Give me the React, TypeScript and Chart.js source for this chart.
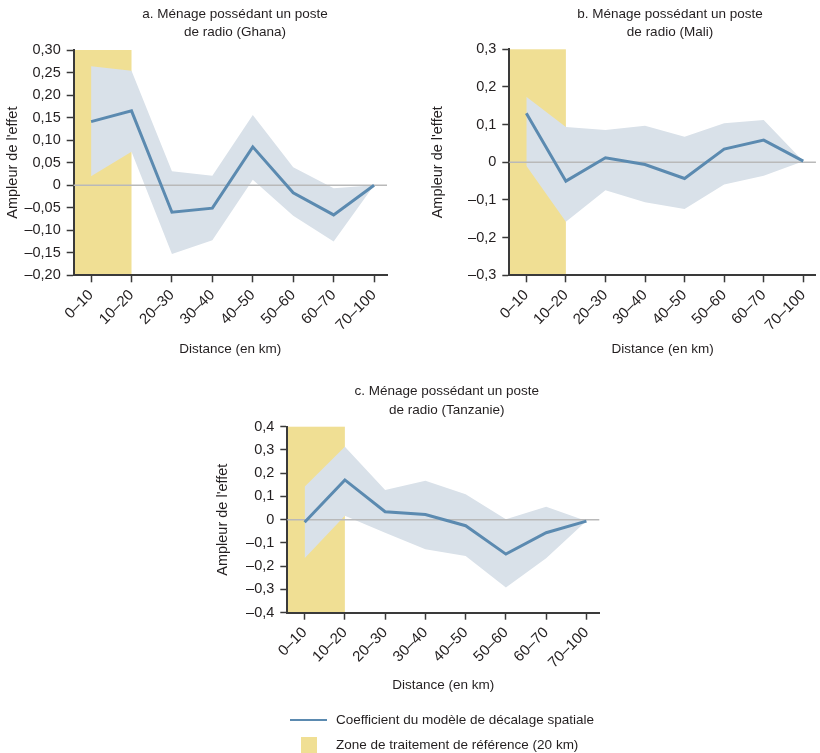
import { useEffect, useRef } from "react";
import { Chart, registerables } from "chart.js";

Chart.register(...registerables);

// Distance bins (km) shared by the three panels
const distanceBins = ["0–10", "10–20", "20–30", "30–40", "40–50", "50–60", "60–70", "70–100"];
// The reference treatment zone runs up to the "10–20" bin (20 km)
const treatmentZoneEndBin = 1;

// a. Ghana
const ghanaCoef = [0.141, 0.165, -0.06, -0.051, 0.085, -0.017, -0.066, 0.0];
const ghanaUpper = [0.264, 0.254, 0.031, 0.021, 0.156, 0.04, -0.007, 0.0];
const ghanaLower = [0.02, 0.074, -0.153, -0.122, 0.012, -0.068, -0.125, 0.0];
const ghanaTicks = [-0.2, -0.15, -0.1, -0.05, 0, 0.05, 0.1, 0.15, 0.2, 0.25, 0.3];

// b. Mali
const maliCoef = [0.13, -0.05, 0.012, -0.006, -0.043, 0.035, 0.059, 0.003];
const maliUpper = [0.174, 0.094, 0.086, 0.097, 0.068, 0.104, 0.112, 0.003];
const maliLower = [-0.009, -0.158, -0.074, -0.106, -0.124, -0.059, -0.036, 0.003];
const maliTicks = [-0.3, -0.2, -0.1, 0, 0.1, 0.2, 0.3];

// c. Tanzania
const tanzaniaCoef = [-0.011, 0.171, 0.034, 0.022, -0.026, -0.148, -0.056, -0.006];
const tanzaniaUpper = [0.142, 0.314, 0.128, 0.168, 0.109, 0.002, 0.056, -0.006];
const tanzaniaLower = [-0.166, 0.017, -0.056, -0.127, -0.156, -0.292, -0.166, -0.006];
const tanzaniaTicks = [-0.4, -0.3, -0.2, -0.1, 0, 0.1, 0.2, 0.3, 0.4];

const FONT = "'Liberation Sans', Arial, sans-serif";
const TEXT_SIZE = 13.5;
const TEXT = "#231f20";
const AXIS = "#3a3a3a";
const LINE = "#5b8ab0";
const BAND = "#d9e1e9";
const ZONE = "#f0df94";
const ZERO = "#b9b9b9";

type Box = { left: number; top: number; width: number; height: number };
type Area = { padLeft: number; yWidth: number; padTop: number; padRight: number; xHeight: number; padBottom: number };

type PanelProps = {
  title: string[];
  titleX: number;
  titleY: number[];
  coef: number[];
  upper: number[];
  lower: number[];
  yTicks: number[];
  decimals: number;
  box: Box;
  area: Area;
};

function formatTick(v: number, decimals: number) {
  if (Math.abs(v) < 1e-9) return "0";
  const s = Math.abs(v).toFixed(decimals).replace(".", ",");
  return v < 0 ? "–" + s : s;
}

function Panel(props: PanelProps) {
  const ref = useRef<HTMLCanvasElement | null>(null);

  useEffect(() => {
    const canvas = ref.current;
    if (!canvas) return;
    const { title, titleX, titleY, coef, upper, lower, yTicks, decimals, area } = props;
    const toPoints = (arr: number[]) => arr.map((y, i) => ({ x: i, y }));

    const decor = {
      id: "panelDecor",
      // treatment zone band, under the axes
      beforeDraw(chart: any) {
        const { ctx, chartArea, scales } = chart;
        const xEnd = scales.x.getPixelForValue(treatmentZoneEndBin);
        ctx.save();
        ctx.fillStyle = ZONE;
        ctx.fillRect(chartArea.left, chartArea.top, xEnd - chartArea.left, chartArea.bottom - chartArea.top);
        ctx.restore();
      },
      // zero reference line, between the confidence band and the coefficient line
      beforeDatasetDraw(chart: any, args: any) {
        if (args.index !== 2) return;
        const { ctx, chartArea, scales } = chart;
        const y0 = scales.y.getPixelForValue(0);
        ctx.save();
        ctx.strokeStyle = ZERO;
        ctx.lineWidth = 1.5;
        ctx.beginPath();
        ctx.moveTo(chartArea.left, y0);
        ctx.lineTo(chartArea.right, y0);
        ctx.stroke();
        ctx.restore();
      },
      afterDraw(chart: any) {
        const { ctx } = chart;
        ctx.save();
        ctx.fillStyle = TEXT;
        ctx.font = `${TEXT_SIZE}px ${FONT}`;
        ctx.textAlign = "center";
        ctx.textBaseline = "middle";
        title.forEach((t, i) => ctx.fillText(t, titleX, titleY[i]));
        ctx.restore();
      },
    };

    const chart = new Chart(canvas, {
      type: "line",
      data: {
        datasets: [
          { data: toPoints(lower), order: 2, borderWidth: 0, pointRadius: 0, fill: false, backgroundColor: BAND },
          { data: toPoints(upper), order: 1, borderWidth: 0, pointRadius: 0, fill: "-1", backgroundColor: BAND },
          { data: toPoints(coef), order: 0, borderColor: LINE, borderWidth: 3, pointRadius: 0, fill: false, tension: 0 },
        ],
      },
      options: {
        animation: false,
        responsive: false,
        layout: { padding: { left: area.padLeft, top: area.padTop, right: area.padRight, bottom: area.padBottom } },
        plugins: { legend: { display: false }, tooltip: { enabled: false }, title: { display: false } },
        scales: {
          x: {
            type: "linear",
            min: -0.43,
            max: 7.32,
            afterBuildTicks: (s: any) => {
              s.ticks = distanceBins.map((_, i) => ({ value: i }));
            },
            afterFit: (s: any) => {
              s.height = area.xHeight;
            },
            ticks: {
              callback: (v: any) => distanceBins[v] ?? "",
              minRotation: 45,
              maxRotation: 45,
              padding: 4,
              color: TEXT,
              font: { family: FONT, size: 15 },
              autoSkip: false,
            },
            grid: { drawOnChartArea: false, drawTicks: true, tickLength: 7, tickColor: AXIS, tickWidth: 1.5 },
            border: { display: true, color: AXIS, width: 2 },
            title: { display: true, text: "Distance (en km)", color: TEXT, font: { family: FONT, size: TEXT_SIZE }, padding: { top: 4, bottom: 4 } },
          },
          y: {
            min: yTicks[0],
            max: yTicks[yTicks.length - 1],
            afterBuildTicks: (s: any) => {
              s.ticks = yTicks.map((v) => ({ value: v }));
            },
            afterFit: (s: any) => {
              s.width = area.yWidth;
            },
            ticks: {
              callback: (v: any) => formatTick(Number(v), decimals),
              padding: 6,
              color: TEXT,
              font: { family: FONT, size: 14.5 },
            },
            grid: { drawOnChartArea: false, drawTicks: true, tickLength: 7, tickColor: AXIS, tickWidth: 1.5 },
            border: { display: true, color: AXIS, width: 2 },
            title: { display: true, text: "Ampleur de l'effet", color: TEXT, font: { family: FONT, size: 14.5 }, padding: { top: 4, bottom: 4 } },
          },
        },
      },
      plugins: [decor],
    } as any);

    return () => chart.destroy();
  }, []);

  const { box } = props;
  return (
    <canvas
      ref={ref}
      width={box.width}
      height={box.height}
      style={{ position: "absolute", left: box.left, top: box.top, width: box.width, height: box.height }}
    />
  );
}

export default function App() {
  const legendText = {
    position: "absolute" as const,
    left: 336,
    height: 20,
    lineHeight: "20px",
    fontFamily: FONT,
    fontSize: TEXT_SIZE,
    color: TEXT,
    whiteSpace: "nowrap" as const,
  };
  return (
    <div style={{ position: "absolute", left: 0, top: 0, width: 820, height: 753, background: "#fff", overflow: "hidden" }}>
      <Panel
        title={["a. Ménage possédant un poste", "de radio (Ghana)"]}
        titleX={235}
        titleY={[14, 32.5]}
        coef={ghanaCoef}
        upper={ghanaUpper}
        lower={ghanaLower}
        yTicks={ghanaTicks}
        decimals={2}
        box={{ left: 0, top: 0, width: 400, height: 361 }}
        area={{ padLeft: 0, yWidth: 73.7, padTop: 50, padRight: 13, xHeight: 85.7, padBottom: 0 }}
      />
      <Panel
        title={["b. Ménage possédant un poste", "de radio (Mali)"]}
        titleX={260}
        titleY={[14, 32.5]}
        coef={maliCoef}
        upper={maliUpper}
        lower={maliLower}
        yTicks={maliTicks}
        decimals={1}
        box={{ left: 410, top: 0, width: 410, height: 361 }}
        area={{ padLeft: 15.6, yWidth: 83.7, padTop: 49.3, padRight: 0, xHeight: 85.7, padBottom: 0 }}
      />
      <Panel
        title={["c. Ménage possédant un poste", "de radio (Tanzanie)"]}
        titleX={246.7}
        titleY={[41.7, 60]}
        coef={tanzaniaCoef}
        upper={tanzaniaUpper}
        lower={tanzaniaLower}
        yTicks={tanzaniaTicks}
        decimals={1}
        box={{ left: 200, top: 350, width: 420, height: 350 }}
        area={{ padLeft: 10.6, yWidth: 76.7, padTop: 76.7, padRight: 20.7, xHeight: 84.7, padBottom: 2.6 }}
      />
      <div style={{ position: "absolute", left: 290, top: 718.8, width: 37, height: 2.5, background: LINE }} />
      <div style={{ ...legendText, top: 710 }}>Coefficient du modèle de décalage spatiale</div>
      <div style={{ position: "absolute", left: 301, top: 737, width: 16, height: 15.5, background: ZONE }} />
      <div style={{ ...legendText, top: 734.5 }}>Zone de traitement de référence (20 km)</div>
    </div>
  );
}
